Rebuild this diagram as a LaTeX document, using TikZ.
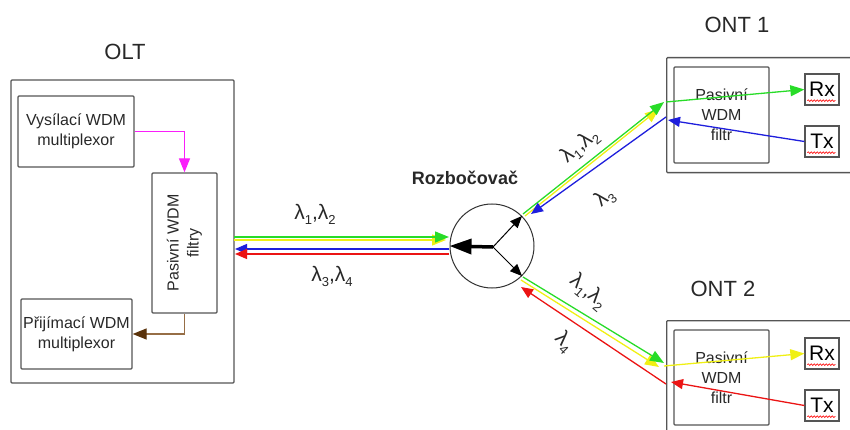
\documentclass[tikz,border=0pt]{standalone}
\usepackage{fontspec}
\setmainfont{Liberation Sans}
\usetikzlibrary{arrows.meta,decorations.pathmorphing,calc}
\definecolor{boxgray}{RGB}{85,85,85}
\definecolor{lgreen}{RGB}{40,220,40}
\definecolor{lyellow}{RGB}{240,240,20}
\definecolor{lblue}{RGB}{30,30,220}
\definecolor{lred}{RGB}{235,20,20}
\definecolor{lmag}{RGB}{250,30,250}
\definecolor{lbrown}{RGB}{150,110,70}
\definecolor{dbrown}{RGB}{90,50,10}
\definecolor{txt}{RGB}{40,40,40}
\newcommand\lsub[1]{\raisebox{-0.45ex}{\fontsize{13}{13}\selectfont #1}}
\begin{document}
\begin{tikzpicture}[x=1pt,y=-1pt,
 box/.style={draw=boxgray,line width=1.3pt,rounded corners=1pt,inner sep=0pt,align=center,text=txt,font=\fontsize{16}{20}\selectfont},
 fib/.style={line width=1.3pt},
 bigtip/.style={-{Triangle[length=14pt,width=11pt]}},
 smalltip/.style={-{Triangle[length=12pt,width=10pt]}},
 title/.style={font=\fontsize{22}{22}\selectfont,text=txt},
 lam/.style={font=\fontsize{21}{21}\selectfont,text=txt,inner sep=0pt},
 rxtx/.style={draw=boxgray,line width=1.3pt,minimum width=34pt,minimum height=31pt,inner sep=0pt,font=\fontsize{21}{21}\selectfont,text=black},
 wavy/.style={draw=red,line width=0.6pt,decorate,decoration={snake,amplitude=0.9pt,segment length=3pt}}
]
\useasboundingbox (0,0) rectangle (850,430);
\clip (0,0) rectangle (850,430);

% ---------- OLT ----------
\node[title] (oltlabel) at (125,52) {OLT};
\node[box,minimum width=223pt,minimum height=303pt] (olt) at (122.5,231.5) {};
\node[box,minimum width=116pt,minimum height=71pt] (vys) at (76,131.5) {Vysílací WDM\\multiplexor};
\node[box,minimum width=65pt,minimum height=140pt] (filt) at (184.5,243) {};
\node[rotate=90,align=center,text=txt,font=\fontsize{16}{20}\selectfont] (filttext) at (filt.center) {Pasivní WDM\\filtry};
\node[box,minimum width=111pt,minimum height=70pt] (prij) at (76.5,334) {Přijímací WDM\\multiplexor};
\draw[lmag,line width=1.3pt,-{Triangle[length=14pt,width=11pt]}] (vys.east) -| (filt.north);
\draw[lbrown,line width=1.3pt,-{Triangle[length=14pt,width=11pt,color=dbrown,fill=dbrown]}] (filt.south) |- (prij.east);

% ---------- splitter ----------
\node[font=\bfseries\fontsize{18}{18}\selectfont,text=txt] (rozlabel) at (465,178) {Rozbočovač};
\node[circle,draw=black!80,line width=1pt,minimum size=84pt,inner sep=0pt] (split) at (492,246) {};
\coordinate (sc) at (493,247);
\draw[line width=3.5pt,-{Triangle[length=22pt,width=15pt]}] (sc) -- (split.west);
\draw[line width=1pt,-{Triangle[length=12pt,width=10pt]}] (sc) -- (split.north east);
\draw[line width=1pt,-{Triangle[length=12pt,width=10pt]}] (sc) -- (split.south east);

% ---------- horizontal bundle ----------
\coordinate (hy0) at (234,240); \coordinate (hy1) at (446,240);
\coordinate (hg0) at (234,237); \coordinate (hg1) at (449,237);
\coordinate (hb0) at (449,249); \coordinate (hb1) at (235,249);
\coordinate (hr0) at (449,254); \coordinate (hr1) at (235,254);
\draw[fib,lyellow,bigtip] (hy0) -- (hy1);
\draw[fib,lgreen,bigtip] (hg0) -- (hg1);
\draw[fib,lblue,smalltip] (hb0) -- (hb1);
\draw[fib,lred,smalltip] (hr0) -- (hr1);
\node[lam] (l12a) at (315,214) {λ\lsub{1},λ\lsub{2}};
\node[lam] (l34) at (332,276) {λ\lsub{3},λ\lsub{4}};

% ---------- ONT 1 ----------
\node[title] (ont1label) at (737,25) {ONT 1};
\node[box,minimum width=189pt,minimum height=115pt,anchor=north west] (ont1) at (666,57) {};
\node[box,minimum width=95pt,minimum height=96pt] (f1) at (721.5,115) {Pasivní\\WDM\\filtr};
\node[rxtx] (rx1) at (822,89.5) {Rx};
\node[rxtx] (tx1) at (822,141.5) {Tx};
\draw[wavy] ($(rx1.south west)+(3,-5)$) -- ($(rx1.south east)+(-4,-5)$);
\draw[wavy] ($(tx1.south west)+(3,-5)$) -- ($(tx1.south east)+(-4,-5)$);
\coordinate (a1y0) at (525,216); \coordinate (a1y1) at (659,109);
\coordinate (a1g0) at (523,214); \coordinate (a1g1) at (664,102);
\coordinate (a1b0) at (666,117); \coordinate (a1b1) at (531,214);
\draw[fib,lyellow,bigtip] (a1y0) -- (a1y1);
\draw[fib,lgreen,bigtip] (a1g0) -- (a1g1);
\draw[fib,lblue,smalltip] (a1b0) -- (a1b1);
\coordinate (i1g) at (666,102);
\coordinate (i1b) at (668,120);
\draw[fib,lgreen,bigtip] (i1g) -- (rx1.west);
\draw[fib,lblue,smalltip] (tx1.west) -- (i1b);
\node[lam,rotate=40] (l12b) at (580,146) {λ\lsub{1},λ\lsub{2}};
\node[lam,rotate=40] (l3) at (605,198) {λ\lsub{3}};

% ---------- ONT 2 ----------
\node[title] (ont2label) at (723,289) {ONT 2};
\node[box,minimum width=189pt,minimum height=125pt,anchor=north west] (ont2) at (666,320) {};
\node[box,minimum width=95pt,minimum height=95pt] (f2) at (721.5,377.5) {Pasivní\\WDM\\filtr};
\node[rxtx] (rx2) at (822,353.5) {Rx};
\node[rxtx] (tx2) at (822,405.5) {Tx};
\draw[wavy] ($(rx2.south west)+(3,-5)$) -- ($(rx2.south east)+(-4,-5)$);
\draw[wavy] ($(tx2.south west)+(3,-5)$) -- ($(tx2.south east)+(-4,-5)$);
\coordinate (a2y0) at (521,280); \coordinate (a2y1) at (659,367);
\coordinate (a2g0) at (523,277); \coordinate (a2g1) at (664,363);
\coordinate (a2r0) at (666,384); \coordinate (a2r1) at (521,287);
\draw[fib,lyellow,bigtip] (a2y0) -- (a2y1);
\draw[fib,lgreen,bigtip] (a2g0) -- (a2g1);
\draw[fib,lred,smalltip] (a2r0) -- (a2r1);
\coordinate (i2y) at (664,366);
\coordinate (i2r) at (671,382);
\draw[fib,lyellow,bigtip] (i2y) -- (rx2.west);
\draw[fib,lred,smalltip] (tx2.west) -- (i2r);
\node[lam,rotate=-40] (l12c) at (588,292) {λ\lsub{1},λ\lsub{2}};
\node[lam,rotate=-45] (l4) at (564,342) {λ\lsub{4}};
\end{tikzpicture}
\end{document}
